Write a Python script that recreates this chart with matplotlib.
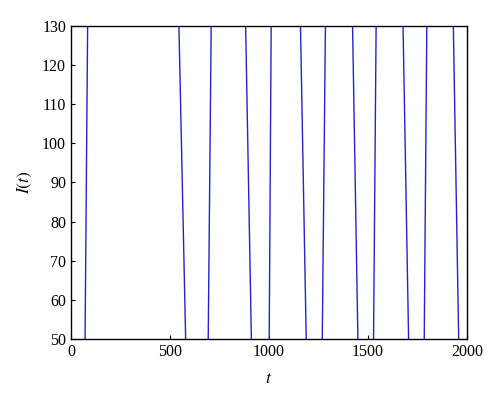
import matplotlib
matplotlib.use("Agg")
import matplotlib.pyplot as plt

# crossing times (t where I(t)=50 or 130), with off-range extremes between
t_vals = [0, 71, 84, 300, 545, 579, 640, 693, 708, 800, 882, 911, 960, 1001, 1011, 1090,
          1159, 1188, 1230, 1269, 1285, 1350, 1422, 1449, 1490, 1528, 1541, 1610, 1677, 1705,
          1745, 1784, 1797, 1860, 1931, 1958, 2000]
I_vals = [-20, 50, 130, 300, 130, 50, -20, 50, 130, 300, 130, 50, -20, 50, 130, 300,
          130, 50, -20, 50, 130, 300, 130, 50, -20, 50, 130, 300, 130, 50,
          -20, 50, 130, 300, 130, 50, -20]

x_ticks = [0, 500, 1000, 1500, 2000]
y_ticks = [50, 60, 70, 80, 90, 100, 110, 120, 130]

plt.rcParams['font.family'] = ['Liberation Serif', 'DejaVu Serif']
plt.rcParams['mathtext.fontset'] = 'stix'
fig = plt.figure(figsize=(5.0, 4.04), dpi=100)
ax = fig.add_axes([0.142, 0.161, 0.792, 0.775])
ax.plot(t_vals, I_vals, color='#2323cc', linewidth=1.0)
ax.set_xlim(0, 2000)
ax.set_ylim(50, 130)
ax.set_xticks(x_ticks)
ax.set_yticks(y_ticks)
ax.tick_params(direction='in', length=3, labelsize=11.5, top=False, right=False)
ax.set_xlabel('$t$', fontsize=12.5, labelpad=8)
ax.set_ylabel('$I(t)$', fontsize=12.5, labelpad=6)
for s in ax.spines.values():
    s.set_linewidth(1.0)
fig.savefig('out.png', dpi=100)
